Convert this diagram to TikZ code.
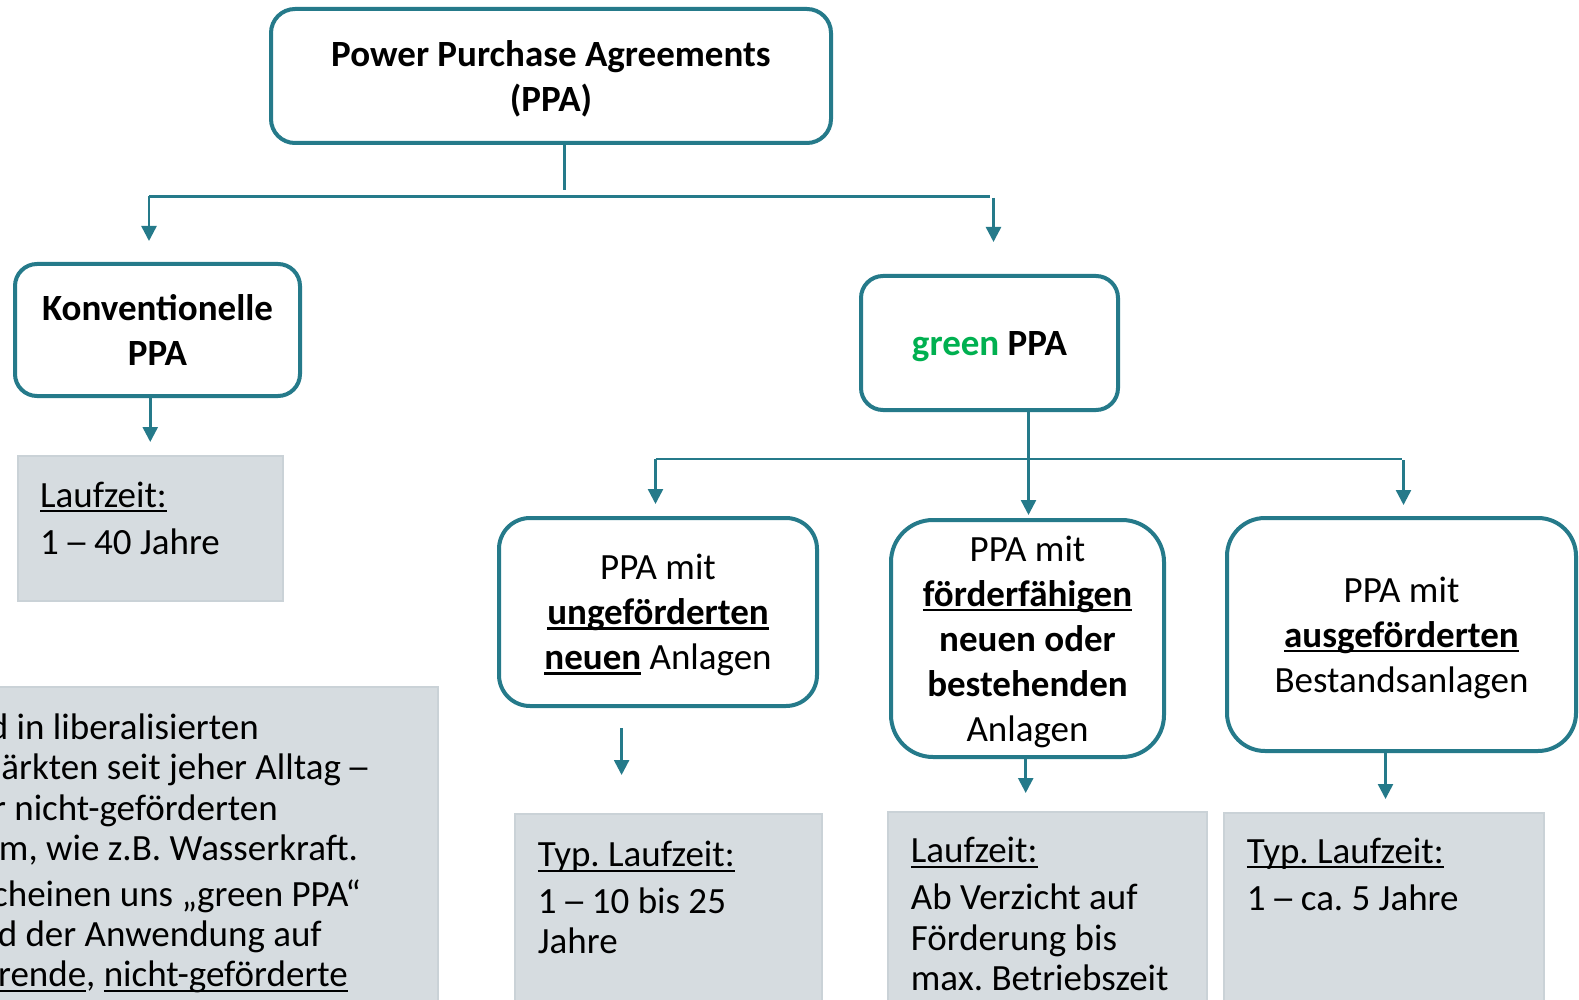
\documentclass[tikz,border=0pt]{standalone}
\usepackage{fontspec}
\usepackage{graphicx}
\setmainfont{Carlito}
\usetikzlibrary{arrows.meta}
\definecolor{ppateal}{RGB}{37,122,138}
\definecolor{ppagray}{RGB}{214,220,224}
\definecolor{ppagrayline}{RGB}{202,210,215}
\definecolor{ppagreen}{RGB}{0,176,80}
% struts: full line box (box nodes) and ascent only (top-aligned text)
\newcommand\bx{\rule[-0.269em]{0pt}{1.221em}}
\newcommand\tx{\rule{0pt}{0.952em}}
% underlines, regular and bold
\newcommand\ulr[1]{\leavevmode\setbox0\hbox{#1}\rlap{\rule[-0.14em]{\wd0}{0.055em}}\box0\relax}
\newcommand\ulb[1]{\leavevmode\setbox0\hbox{\bfseries #1}\rlap{\rule[-0.14em]{\wd0}{0.075em}}\box0\relax}
% a slightly longer en dash on the same advance width
\newcommand\ldash{\makebox[0.5em]{\scalebox{1.35}[1]{–}}}
\newcommand\boxfont{\fontsize{37}{45}\selectfont}
\newcommand\panelfont{\fontsize{37}{40.3}\selectfont}
\begin{document}
\frenchspacing
\setlength{\lineskiplimit}{-50pt}
\begin{tikzpicture}[x=1pt,y=-1pt,
  box/.style={draw=ppateal, line width=4pt, fill=white, align=center, inner sep=0pt,
    font=\boxfont},
  graybox/.style={draw=ppagrayline, line width=1.5pt, fill=ppagray, anchor=north west, inner sep=0pt},
  graytext/.style={anchor=north west, align=left, inner sep=0pt, font=\panelfont},
  bodyline/.style={anchor=base east, inner sep=0pt, font=\panelfont},
  conn/.style={draw=ppateal, line width=2.5pt},
  arr/.style={conn, -{Triangle[width=15pt,length=15pt]}}]
\useasboundingbox (0,0) rectangle (1579,1000);
\clip (0,0) rectangle (1579,1000);
\fill[white] (0,0) rectangle (1579,1000);

% ---- category boxes
\node[box, rounded corners=24pt, minimum width=560pt, minimum height=134pt] (top) at (551,76)
  {\bx\bfseries Power Purchase Agreements\\ \bx\bfseries (PPA)};
\node[box, rounded corners=22pt, minimum width=285pt, minimum height=132pt] (konv) at (157.5,330)
  {\bx\bfseries Konventionelle\\ \bx\bfseries PPA};
\node[box, rounded corners=22pt, minimum width=257pt, minimum height=134pt] (green) at (989.5,343)
  {\bx\bfseries\textcolor{ppagreen}{green} PPA};
\node[box, rounded corners=31pt, minimum width=318pt, minimum height=188pt] (b1) at (658,612)
  {\bx PPA mit\\ \ulb{ungeförderten}\\ \bx\ulb{neuen} Anlagen};
\node[box, rounded corners=42pt, minimum width=273pt, minimum height=237pt] (b2) at (1027.5,638.5)
  {\bx PPA mit\\ \ulb{förderfähigen}\\ \textbf{neuen oder}\\ \textbf{bestehenden}\\ \bx Anlagen};
\node[box, rounded corners=38pt, minimum width=349pt, minimum height=233pt] (b3) at (1401.5,634.5)
  {\bx PPA mit\\ \ulb{ausgeförderten}\\ \bx Bestandsanlagen};

% ---- grey detail panels
\node[graybox, minimum width=265pt, minimum height=145pt] (lz1) at (17,455) {};
\node[graybox, minimum width=307pt, minimum height=200pt] (typ1) at (514,813) {};
\node[graybox, minimum width=319pt, minimum height=200pt] (lz2) at (887,811) {};
\node[graybox, minimum width=320pt, minimum height=200pt] (typ3) at (1223,812) {};
\node[graybox, minimum width=450pt, minimum height=330pt] (note) at (-13,686) {};

% ---- connectors, first level
\coordinate (j0) at (564.5,190.5);
\coordinate (hL) at (149,196.5);
\coordinate (hR) at (990,196.5);
\coordinate (hR2) at (993.5,198);
\draw[conn] (top.south -| j0) -- (j0);
\draw[conn] (hL) -- (hR);
\draw[arr, shorten >=21pt] (hL) -- (hL |- konv.north);
\draw[arr, shorten >=32pt] (hR2) -- (hR2 |- green.north);
\draw[arr, shorten >=13pt] (konv.south -| lz1.north) -- (lz1.north);

% ---- connectors, second level
\coordinate (gL) at (655.5,459);
\coordinate (gR) at (1402,459);
\coordinate (gR2) at (1403.5,460);
\coordinate (gM) at (1028.5,0);
\draw[conn] (gL) -- (gR);
\draw[arr, shorten >=3pt] (green.south -| gM) -- (gM |- b2.north);
\draw[arr, shorten >=12pt] (gL) -- (gL |- b1.north);
\draw[arr, shorten >=11pt] (gR2) -- (gR2 |- b3.north);

% ---- connectors to the panels
\coordinate (a1) at (621.6,728);
\coordinate (a2) at (1025.7,0);
\coordinate (a3) at (1385.5,0);
\draw[arr, shorten >=38pt] (a1) -- (a1 |- typ1.north);
\draw[arr, shorten >=18pt] (b2.south -| a2) -- (a2 |- lz2.north);
\draw[arr, shorten >=13pt] (b3.south -| a3) -- (a3 |- typ3.north);

% ---- panel texts
\node[graytext] (t1) at (40,471.8) {\tx\ulr{Laufzeit:}\\[6.5pt] 1 \ldash{} 40 Jahre};
\node[graytext] (t2) at (537.7,831.5) {\tx\ulr{Typ. Laufzeit:}\\[6pt] 1 \ldash{} 10 bis 25\\ Jahre};
\node[graytext] (t3) at (910.7,827.5) {\tx\ulr{Laufzeit:}\\[6.5pt] Ab Verzicht auf\\ Förderung bis\\ max. Betriebszeit};
\node[graytext] (t4) at (1246.7,827.8) {\tx\ulr{Typ. Laufzeit:}\\[6.5pt] 1 \ldash{} ca. 5 Jahre};

% ---- note panel, lines set flush to their right ends
\node[bodyline] (n1) at (259,739.3) {d in liberalisierten};
\node[bodyline] (n2) at (368,779.5) {ärkten seit jeher Alltag \ldash};
\node[bodyline] (n3) at (278,820) {r nicht-geförderten};
\node[bodyline] (n4) at (358,860) {m, wie z.B. Wasserkraft.};
\node[bodyline] (n5) at (361,906.5) {cheinen uns „green PPA“};
\node[bodyline] (n6) at (322,946.5) {d der Anwendung auf};
\node[bodyline] (n7) at (348,986.5) {\ulr{rende}, \ulr{nicht-geförderte}};
\end{tikzpicture}
\end{document}
